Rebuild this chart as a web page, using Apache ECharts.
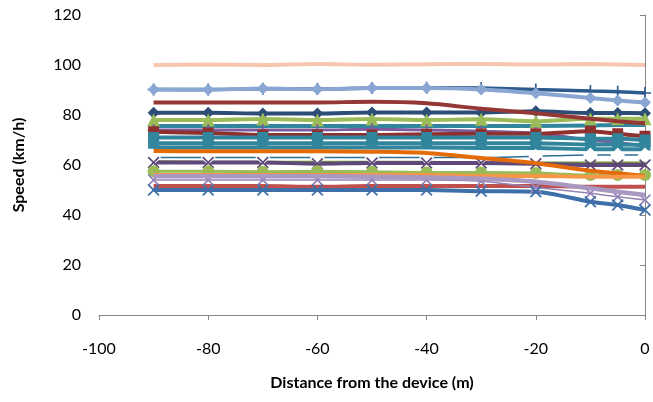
<!DOCTYPE html>
<html>
<head>
<meta charset="utf-8">
<script src="https://cdn.jsdelivr.net/npm/echarts@6/dist/echarts.min.js"></script>
<style>html,body{margin:0;padding:0;background:#fff}#c{width:653px;height:402px}</style>
</head>
<body>
<div id="c"></div>
<script>
// ---- data ----
const distances = [-90, -80, -70, -60, -50, -40, -30, -20, -10, -5, 0];
const xTicks = [-100, -80, -60, -40, -20, 0];
const yTicks = [0, 20, 40, 60, 80, 100, 120];

const peach100       = [100, 100.2, 100, 100.4, 100.1, 100.3, 100.4, 100.2, 100.4, 100.2, 100];
const navyPlus       = [90.2, 90.2, 90.5, 90.4, 90.8, 90.9, 90.8, 90.2, 89.6, 89.3, 88.8];
const lightBlueDiam  = [90.2, 90.1, 90.6, 90.3, 90.8, 90.8, 90.2, 88.7, 86.8, 85.8, 85];
const darkRedLine    = [85, 85, 85, 85, 85.3, 84.7, 82.5, 80.7, 78.5, 77.5, 76.7];
const navyDiamond    = [80.9, 80.9, 80.6, 80.6, 81, 81, 81, 81.5, 80.8, 80.8, 80.7];
const greenTriangle  = [78, 78, 78.4, 78, 78.4, 78, 78.3, 77.5, 78.5, 78.5, 78.5];
const tealLine       = [75.6, 75.6, 75.6, 75.6, 75.6, 75.6, 75.6, 75.6, 75.8, 76, 76];
const purplePlus     = [74, 74, 74, 74, 74.3, 74, 73.5, 72.7, 70, 69, 67.6];
const darkRedSquare  = [73.3, 72.8, 72, 72, 72, 72.3, 72.5, 72.5, 73.5, 72.5, 71.5];
const tealSquareA    = [71, 71, 71, 71, 71, 71, 71, 71, 70.5, 70.5, 70];
const tealSquareB    = [68.7, 68.7, 68.7, 68.7, 68.7, 68.7, 68.7, 68.7, 68.2, 68.2, 68];
const tealLineC      = [67, 67, 67, 67, 67, 67, 66.8, 66.8, 66.3, 66.3, 66.3];
const orangeDark     = [65.6, 65.5, 65.5, 65.5, 65.3, 64.8, 62.8, 60.7, 57.7, 56.7, 55.6];
const hollowDiamond  = [63, 63, 63, 63, 63, 63, 63, 63.5, 64, 64, 64];
const darkPurple     = [61, 61, 61, 60.5, 60.8, 60.8, 60.8, 60.5, 60, 60, 60];
const oliveLine      = [61.5, 61.3, 61.3, 61.3, 61.3, 61.3, 61, 61, 61, 61, 61];
const greenCircle    = [57.5, 57.5, 57.3, 57.5, 57.3, 57, 57, 56.8, 56, 56, 56];
const orangeLight    = [56, 56, 56, 56, 56, 56, 55.6, 55.6, 55.3, 55.3, 55.3];
const lavender       = [55.5, 55.5, 55.5, 55.5, 55.3, 55, 54.5, 53.3, 50.7, 49.3, 48];
const purpleX        = [54, 54, 54, 54, 54, 54, 53.5, 51, 48.7, 47.3, 46];
const redLine        = [51.6, 51.6, 51.6, 51.3, 51.6, 51.6, 51.6, 51.6, 51.3, 51.3, 51.3];
const blueX          = [50, 50, 50, 50, 50, 50, 49.5, 49.3, 45.3, 44, 42];

// ---- styles ----
const X_SYM = 'path://M0,1L1,0L5,4L9,0L10,1L6,5L10,9L9,10L5,6L1,10L0,9L4,5Z';
const PLUS_SYM = 'path://M4.3,0H5.7V4.3H10V5.7H5.7V10H4.3V5.7H0V4.3H4.3Z';

const seriesDefs = [
  {d: peach100, c: '#F7C6AE', w: 4, s: 'none'},
  {d: navyPlus, c: '#2E5B8E', w: 3.5, s: PLUS_SYM, z: 10},
  {d: lightBlueDiam, c: '#8AA6D3', w: 4, s: 'diamond', z: 12},
  {d: darkRedLine, c: '#953735', w: 4, s: 'none', z: 11},
  {d: navyDiamond, c: '#2C4D75', w: 4, s: 'diamond', z: 10},
  {d: greenTriangle, c: '#9BBB59', w: 4, s: 'triangle', z: 10},
  {d: tealLine, c: '#31859C', w: 4, s: 'none'},
  {d: purplePlus, c: '#7A5C9E', w: 3, s: PLUS_SYM, z: 10},
  {d: darkRedSquare, c: '#8E302E', w: 4, s: 'rect', z: 10},
  {d: tealSquareA, c: '#31859C', w: 4, s: 'rect', z: 10},
  {d: tealSquareB, c: '#31859C', w: 4, s: 'rect', z: 10},
  {d: tealLineC, c: '#31859C', w: 4, s: 'none'},
  {d: orangeDark, c: '#E36C09', w: 4, s: 'none', z: 11},
  {d: hollowDiamond, c: '#2E6F95', w: 1.5, s: 'emptyDiamond', z: 10, empty: true},
  {d: darkPurple, c: '#5F497A', w: 4, s: X_SYM, z: 10},
  {d: oliveLine, c: '#77933C', w: 2, s: 'none'},
  {d: greenCircle, c: '#9BBB59', w: 3, s: 'circle', z: 10},
  {d: orangeLight, c: '#F79646', w: 4, s: 'none', z: 11},
  {d: lavender, c: '#A898C2', w: 4.5, s: 'none', z: 11},
  {d: purpleX, c: '#9583B6', w: 1.5, s: X_SYM, z: 10},
  {d: redLine, c: '#C0504D', w: 4, s: 'none'},
  {d: blueX, c: '#3E6FA8', w: 4, s: X_SYM, z: 10}
];

const series = seriesDefs.map((sd) => ({
  type: 'line',
  data: distances.map((x, j) => [x, sd.d[j]]),
  symbol: sd.s,
  symbolSize: sd.s === 'triangle' ? 13 : (sd.s === 'rect' ? 11 : 12),
  showSymbol: sd.s !== 'none',
  smooth: 0.25,
  z: sd.z || 2,
  lineStyle: {color: sd.c, width: sd.w},
  itemStyle: sd.empty ? {color: '#fff', borderColor: sd.c, borderWidth: 1.8} : {color: sd.c},
  emphasis: {disabled: true}
}));

const chart = echarts.init(document.getElementById('c'), null, {renderer: 'canvas'});
const font = 'Lato, "Open Sans", sans-serif';
chart.setOption({
  animation: false,
  backgroundColor: '#fff',
  grid: {left: 99, right: 8, top: 15, bottom: 87},
  xAxis: {
    type: 'value', min: xTicks[0], max: xTicks[xTicks.length - 1], interval: 20,
    name: 'Distance from the device (m)', nameLocation: 'middle', nameGap: 60,
    nameTextStyle: {fontFamily: font, fontWeight: 'bold', fontSize: 16, color: '#000'},
    axisLine: {lineStyle: {color: '#868686', width: 1}},
    axisTick: {show: true, inside: false, length: 5, lineStyle: {color: '#868686'}},
    axisLabel: {fontFamily: font, fontSize: 16, color: '#000', margin: 26},
    splitLine: {show: false}
  },
  yAxis: {
    type: 'value', min: yTicks[0], max: yTicks[yTicks.length - 1], interval: 20,
    name: 'Speed (km/h)', nameLocation: 'middle', nameGap: 72, nameRotate: 90,
    nameTextStyle: {fontFamily: font, fontWeight: 'bold', fontSize: 16, color: '#000'},
    axisLine: {show: true, lineStyle: {color: '#868686', width: 1}},
    axisTick: {show: true, inside: false, length: 5, lineStyle: {color: '#868686'}},
    axisLabel: {fontFamily: font, fontSize: 16, color: '#000', margin: 18},
    splitLine: {show: false}
  },
  series: series
});
</script>
</body>
</html>
